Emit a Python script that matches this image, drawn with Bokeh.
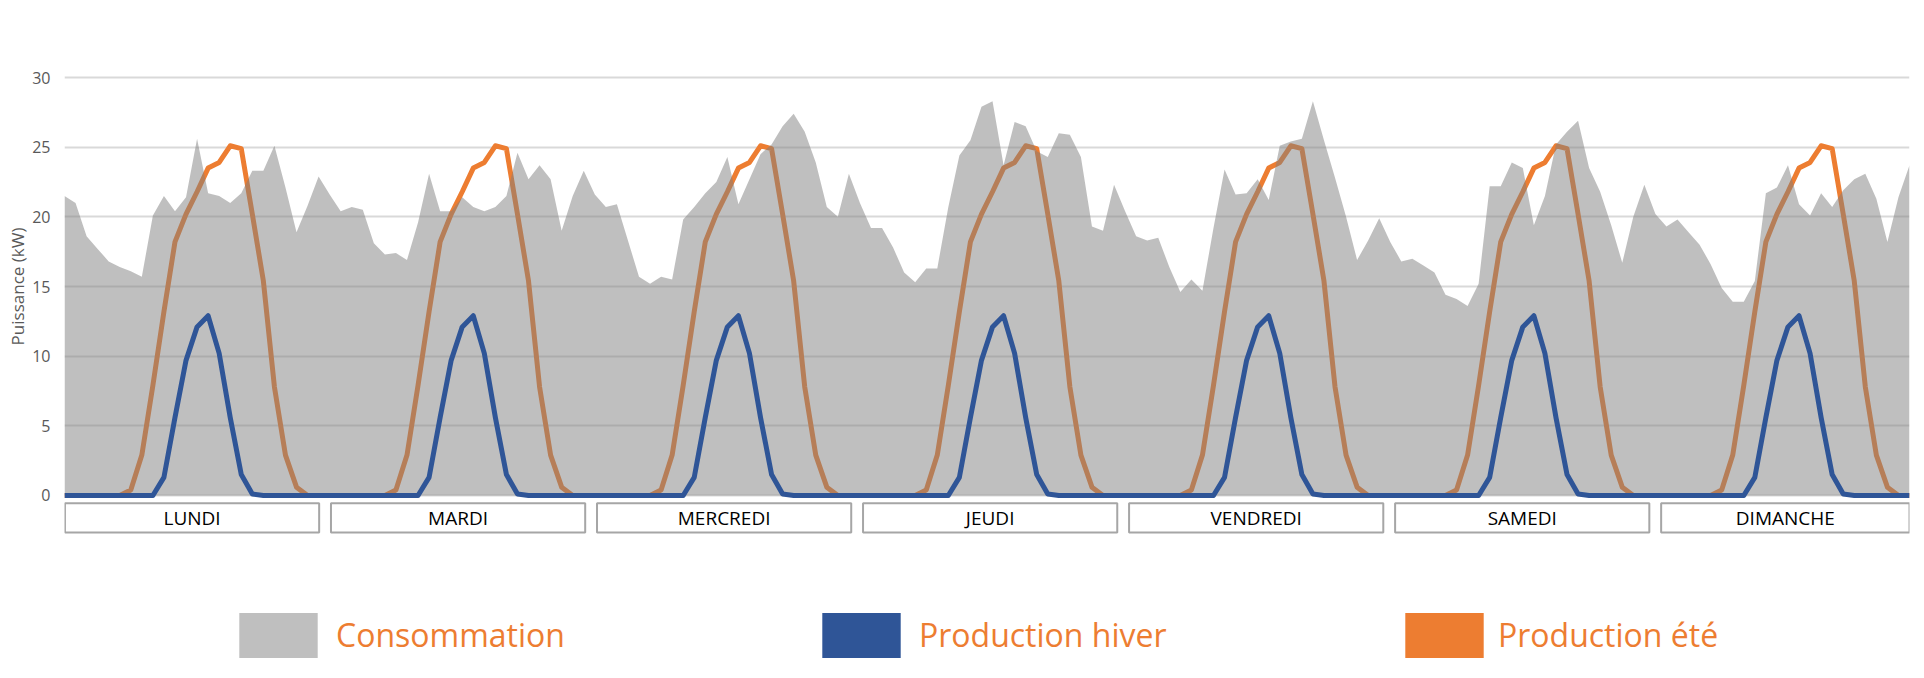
from bokeh.plotting import figure
from bokeh.layouts import column
from bokeh.models import Range1d, FixedTicker, ColumnDataSource, Legend, LegendItem
from bokeh.embed import file_html
from bokeh.resources import INLINE
from bokeh.core.properties import value

# ---------------- data ----------------
days = ["LUNDI", "MARDI", "MERCREDI", "JEUDI", "VENDREDI", "SAMEDI", "DIMANCHE"]

consommation = [
    21.5, 21.0, 18.6, 17.7, 16.8, 16.4, 16.1, 15.7, 20.1, 21.5, 20.4, 21.4,
    25.6, 21.7, 21.5, 21.0, 21.7, 23.3, 23.3, 25.1, 22.1, 18.9, 20.8, 22.9,
    21.6, 20.4, 20.7, 20.5, 18.1, 17.3, 17.4, 16.9, 19.6, 23.1, 20.4, 20.4,
    21.4, 20.7, 20.4, 20.7, 21.5, 24.6, 22.7, 23.7, 22.7, 19.0, 21.5, 23.3,
    21.6, 20.7, 20.9, 18.3, 15.7, 15.2, 15.7, 15.5, 19.8, 20.7, 21.7, 22.5,
    24.3, 20.9, 22.7, 24.5, 25.2, 26.5, 27.4, 26.1, 23.9, 20.7, 20.0, 23.1,
    21.0, 19.2, 19.2, 17.8, 16.0, 15.3, 16.3, 16.3, 20.7, 24.4, 25.5, 27.9,
    28.3, 23.7, 26.8, 26.5, 24.7, 24.3, 26.0, 25.9, 24.3, 19.3, 19.0, 22.3,
    20.4, 18.6, 18.3, 18.5, 16.4, 14.6, 15.5, 14.7, 19.2, 23.4, 21.6, 21.7,
    22.7, 21.2, 25.1, 25.4, 25.6, 28.3, 25.5, 22.8, 20.0, 16.9, 18.3, 19.9,
    18.2, 16.8, 17.0, 16.5, 16.0, 14.4, 14.1, 13.6, 15.2, 22.2, 22.2, 23.9,
    23.5, 19.4, 21.5, 25.2, 26.1, 26.9, 23.5, 21.8, 19.4, 16.7, 20.0, 22.3,
    20.2, 19.3, 19.8, 18.9, 18.0, 16.6, 14.9, 13.9, 13.9, 15.4, 21.7, 22.1,
    23.7, 20.9, 20.1, 21.7, 20.7, 21.9, 22.7, 23.1, 21.3, 18.2, 21.4, 23.7,
]

# daily production profiles (hour 0..23), identical every day in the chart
hiver_jour = [0, 0, 0, 0, 0, 0, 0, 0, 0, 1.3, 5.6, 9.7,
              12.1, 12.9, 10.2, 5.6, 1.5, 0.1, 0, 0, 0, 0, 0, 0]
ete_jour = [0, 0, 0, 0, 0, 0, 0.4, 2.9, 7.9, 13.2, 18.2, 20.2,
            21.8, 23.5, 23.9, 25.1, 24.9, 20.2, 15.4, 7.8, 2.9, 0.6, 0, 0]

y_ticks = [0, 5, 10, 15, 20, 25, 30]
series_labels = ["Consommation", "Production hiver", "Production été"]
y_title = "Puissance (kW)"

# ---------------- build ----------------
hours = list(range(len(consommation)))
hiver = hiver_jour * len(days)
ete = ete_jour * len(days)

src = ColumnDataSource(dict(h=hours, conso=consommation, hiver=hiver, ete=ete))
x_rng = Range1d(0, len(hours) - 1)

# main chart: frame symmetric around the 0..30 band so the axis title is centred on it
p = figure(width=1924, height=536, output_backend="svg", toolbar_location=None,
           x_range=x_rng, y_range=Range1d(-2.943, 32.943),
           x_axis_location=None, min_border_left=64, min_border_right=15,
           min_border_top=36, min_border_bottom=0)
p.outline_line_color = None
p.background_fill_color = "white"
p.border_fill_color = "white"
p.xgrid.visible = False
p.ygrid.ticker = FixedTicker(ticks=y_ticks)
p.ygrid.grid_line_color = "#D9D9D9"
p.ygrid.grid_line_width = 2

ax = p.yaxis[0]
ax.ticker = FixedTicker(ticks=y_ticks)
ax.axis_line_color = None
ax.major_tick_line_color = None
ax.minor_tick_line_color = None
ax.major_tick_out = 0
ax.major_tick_in = 0
ax.minor_tick_out = 0
ax.major_label_standoff = 14
ax.major_label_text_font = "Open Sans"
ax.major_label_text_font_size = "16px"
ax.major_label_text_color = "#595959"
ax.axis_label = y_title
ax.axis_label_text_font = "Open Sans"
ax.axis_label_text_font_size = "17px"
ax.axis_label_text_font_style = "normal"
ax.axis_label_text_color = "#595959"
ax.axis_label_standoff = 0

# orange line below the translucent area, blue line on top
p.line("h", "ete", source=src, line_color="#ED7D31", line_width=5, line_join="round")
p.varea(x="h", y1=0, y2="conso", source=src, fill_color="#7F7F7F", fill_alpha=0.5)
p.line("h", "hiver", source=src, line_color="#2F5597", line_width=5, line_join="round")

# day group boxes under the axis
slot = 24.08
n_last = len(hours) - 1
box_left = [slot * d + 0.04 for d in range(len(days))]
box_right = [min(slot * d + 23.05, n_last) for d in range(len(days))]
box_mid = [(a + b) / 2 for a, b in zip(box_left, box_right)]
p.quad(left=box_left, right=box_right, top=-0.55, bottom=-2.66,
       fill_color="white", line_color="#A6A6A6", line_width=2)
p.text(x=box_mid, y=[-1.6] * len(days), text=days, text_font=value("Open Sans"),
       text_font_size="19px", text_align="center", text_baseline="middle",
       text_color="#000000")

# lower panel: legend
q = figure(width=1924, height=142, output_backend="svg", toolbar_location=None,
           x_range=x_rng, y_range=Range1d(0, 1),
           x_axis_location=None, y_axis_location=None,
           min_border_left=64, min_border_right=15, min_border_top=0, min_border_bottom=0)
q.outline_line_color = None
q.background_fill_color = "white"
q.border_fill_color = "white"
q.grid.visible = False

# legend-only swatch renderers (NaN data so nothing is drawn in the plot)
nan = float("nan")
colors = ["#BFBFBF", "#2F5597", "#ED7D31"]
leg_x = [165, 748, 1331]
leg_standoff = [9, 9, 5]
for lab, col, lx, so in zip(series_labels, colors, leg_x, leg_standoff):
    r = q.quad(left=[nan], right=[nan], top=[nan], bottom=[nan], fill_color=col, line_color=None)
    leg = Legend(items=[LegendItem(label=lab, renderers=[r])], location=(lx, 15.4),
                 orientation="horizontal", glyph_width=98, glyph_height=56,
                 label_standoff=so, label_text_font="Open Sans",
                 label_text_font_size="32px", label_text_color="#ED7D31",
                 background_fill_alpha=0, border_line_alpha=0,
                 padding=0, margin=0, spacing=0)
    q.add_layout(leg)

layout = column(p, q, spacing=0)
open("out.html", "w").write(file_html(layout, INLINE))
